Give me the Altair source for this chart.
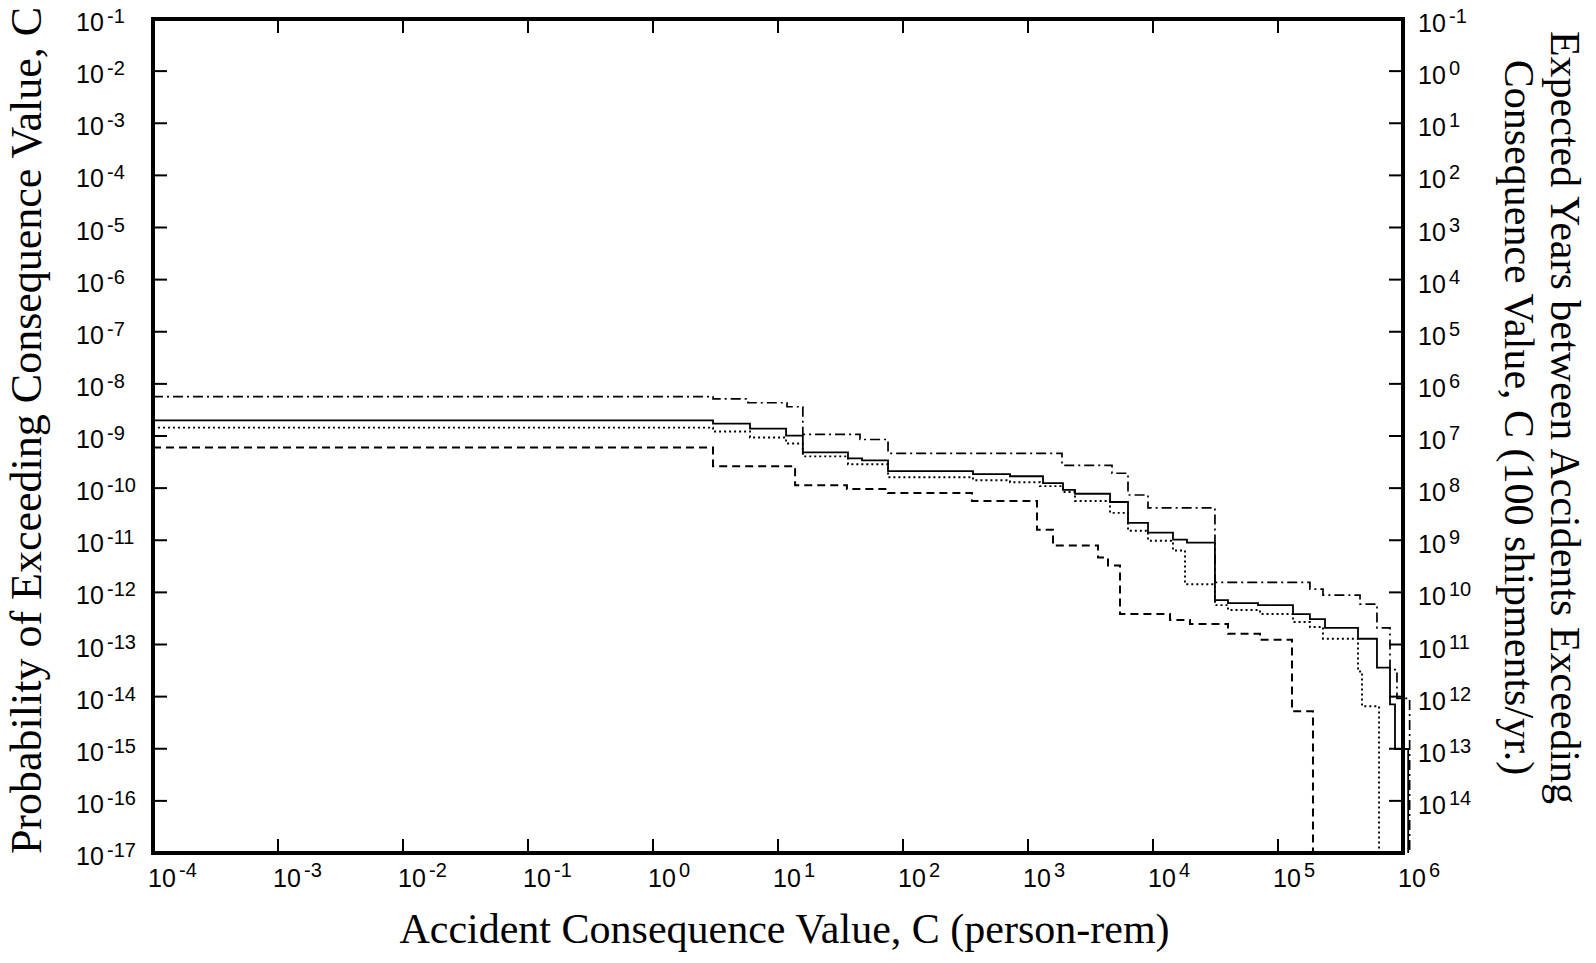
import altair as alt
import pandas as pd

# ---------------- data ----------------
series_names = ["dashdot", "solid", "dotted", "dashed"]

dashdot_c = [1e-4, 3.02, 5.75, 11.8, 15.8, 45.3, 75.9, 1870, 4700, 6310, 9120, 31300,
             180000, 229000, 453000, 619000, 787000, 895000, 1.13e6]
dashdot_p = [5.71e-9, 5.16e-9, 4.34e-9, 3.64e-9, 1.07e-9, 8.57e-10, 4.64e-10, 2.74e-10,
             1.93e-10, 7.38e-11, 4.17e-11, 1.56e-12, 1.15e-12, 8.83e-13, 5.96e-13,
             2.08e-13, 3.30e-14, 9.27e-15, 1e-17]

solid_c = [1e-4, 3.02, 5.97, 11.6, 15.8, 36.3, 47.0, 75.9, 363, 718, 1318, 1905, 2377,
           4530, 6310, 9120, 14450, 18700, 31300, 39800, 69200, 131800, 180000, 237700,
           436500, 619000, 787000, 863000, 1.1e6]
solid_p = [2.00e-9, 1.73e-9, 1.39e-9, 1.02e-9, 4.85e-10, 3.73e-10, 3.42e-10, 2.11e-10,
           1.85e-10, 1.69e-10, 1.25e-10, 9.29e-11, 7.80e-11, 5.42e-11, 2.16e-11, 1.40e-11,
           1.03e-11, 9.0e-12, 7.10e-13, 6.22e-13, 5.70e-13, 3.84e-13, 3.08e-13, 2.08e-13,
           1.29e-13, 3.61e-14, 7.13e-15, 9.9e-16, 1e-17]

dotted_c = [1e-4, 3.02, 5.97, 11.6, 15.8, 36.3, 75.9, 363, 718, 1247, 1905, 2377, 4530,
            6310, 9120, 14450, 18030, 31300, 39800, 71800, 131800, 180000, 229000,
            436500, 470000, 643000]
dotted_p = [1.45e-9, 1.22e-9, 9.35e-10, 7.19e-10, 4.07e-10, 2.87e-10, 1.62e-10, 1.42e-10,
            1.30e-10, 1.09e-10, 8.41e-11, 5.67e-11, 3.35e-11, 1.52e-11, 9.8e-12, 6.34e-12,
            1.43e-12, 5.70e-13, 4.58e-13, 3.84e-13, 2.70e-13, 2.17e-13, 1.29e-13,
            3.03e-14, 6.53e-15, 1e-17]

dashed_c = [1e-4, 3.02, 13.7, 35.6, 75.9, 356, 1180, 1585, 3630, 4365, 5445, 13680,
            19770, 39800, 71800, 129400, 190500]
dashed_p = [6.04e-10, 2.63e-10, 1.14e-10, 9.59e-11, 8.05e-11, 5.67e-11, 1.59e-11,
            7.89e-12, 4.67e-12, 3.29e-12, 3.84e-13, 2.95e-13, 2.48e-13, 1.60e-13,
            1.23e-13, 5.25e-15, 1e-17]

x_ticks = [1e-4, 1e-3, 1e-2, 1e-1, 1e0, 1e1, 1e2, 1e3, 1e4, 1e5, 1e6]
x_tick_exps = ["-4", "-3", "-2", "-1", "0", "1", "2", "3", "4", "5", "6"]
y_ticks = [1e-1, 1e-2, 1e-3, 1e-4, 1e-5, 1e-6, 1e-7, 1e-8, 1e-9, 1e-10, 1e-11, 1e-12,
           1e-13, 1e-14, 1e-15, 1e-16, 1e-17]
y_left_exps = ["-1", "-2", "-3", "-4", "-5", "-6", "-7", "-8", "-9", "-10", "-11", "-12",
               "-13", "-14", "-15", "-16", "-17"]
y_right_values = [1e-1, 1e-2, 1e-3, 1e-4, 1e-5, 1e-6, 1e-7, 1e-8, 1e-9, 1e-10, 1e-11,
                  1e-12, 1e-13, 1e-14, 1e-15, 1e-16]
y_right_exps = ["-1", "0", "1", "2", "3", "4", "5", "6", "7", "8", "9", "10", "11", "12",
                "13", "14"]
label_base = "10"

x_title = "Accident Consequence Value, C (person-rem)"
y_left_title = "Probability of Exceeding Consequence Value, C"
y_right_title = ["Expected Years between Accidents Exceeding",
                 "Consequence Value, C (100 shipments/yr.)"]

# ---------------- tables ----------------
rows = []
for name, cs, ps in [("dashdot", dashdot_c, dashdot_p), ("solid", solid_c, solid_p),
                     ("dotted", dotted_c, dotted_p), ("dashed", dashed_c, dashed_p)]:
    for i, (c, p) in enumerate(zip(cs, ps)):
        rows.append({"series": name, "c": c, "p": p, "order": i})
df = pd.DataFrame(rows)
xt = pd.DataFrame({"v": x_ticks, "base": label_base, "exp": x_tick_exps})
yt = pd.DataFrame({"v": y_ticks, "base": label_base, "exp": y_left_exps})
yr = pd.DataFrame({"v": y_right_values, "base": label_base, "exp": y_right_exps})

W, H = 1250, 834
TICK = 14
LABEL_FONT = "Liberation Sans"
TITLE_FONT = "Liberation Serif"
BASE_SIZE = 25
EXP_SIZE = 20

x_scale = alt.Scale(type="log", domain=[1e-4, 1e6], nice=False)
y_scale = alt.Scale(type="log", domain=[1e-17, 1e-1], nice=False)

common_axis = dict(grid=False, ticks=False, tickSize=0, domain=False, labels=False,
                   titleFont=TITLE_FONT, titleFontWeight="normal", titleColor="black")

x_axis = alt.Axis(values=x_ticks, title=x_title, titleFontSize=42, titleX=631, titleY=89,
                  titleAlign="center", titleBaseline="alphabetic", **common_axis)
yl_axis = alt.Axis(orient="left", values=y_ticks, title=y_left_title, titleFontSize=44,
                   titleAngle=270, titleX=-113, titleY=H / 2 - 6,
                   titleAlign="center", titleBaseline="alphabetic", **common_axis)
yr_axis = alt.Axis(orient="right", values=y_ticks, title=y_right_title, titleFontSize=42,
                   titleAngle=90, titleX=147, titleY=H / 2 - 19,
                   titleAlign="center", titleBaseline="alphabetic", titleLineHeight=46,
                   **common_axis)

lines = alt.Chart(df).mark_line(interpolate="step-after", color="black", clip=False).encode(
    x=alt.X("c:Q", scale=x_scale, axis=x_axis),
    y=alt.Y("p:Q", scale=y_scale, axis=yl_axis),
    strokeDash=alt.StrokeDash("series:N", legend=None,
                              scale=alt.Scale(domain=series_names,
                                              range=[[10, 4, 2, 4], [1, 0], [2, 3], [8, 5]])),
    strokeWidth=alt.StrokeWidth("series:N", legend=None,
                                scale=alt.Scale(domain=series_names,
                                                range=[1.7, 2.0, 1.7, 1.7])),
    order=alt.Order("order:Q"),
)

# inward tick marks on all four sides
tick_style = dict(color="black", strokeWidth=2)
bottom_ticks = alt.Chart(xt).mark_rule(**tick_style).encode(
    x=alt.X("v:Q", scale=x_scale, axis=None),
    y=alt.value(H), y2=alt.value(H - TICK))
top_ticks = alt.Chart(xt).mark_rule(**tick_style).encode(
    x=alt.X("v:Q", scale=x_scale, axis=None),
    y=alt.value(0), y2=alt.value(TICK))
left_ticks = alt.Chart(yt).mark_rule(**tick_style).encode(
    y=alt.Y("v:Q", scale=y_scale, axis=None),
    x=alt.value(0), x2=alt.value(TICK))
right_ticks = alt.Chart(yt).mark_rule(**tick_style).encode(
    y=alt.Y("v:Q", scale=y_scale, axis=yr_axis),
    x=alt.value(W - TICK), x2=alt.value(W))

# tick labels "10" with superscript exponent
def txt(size, **kw):
    return dict(align="left", baseline="alphabetic", font=LABEL_FONT, fontSize=size,
                color="black", **kw)

bx_base = alt.Chart(xt).mark_text(**txt(BASE_SIZE, dx=-5, dy=34)).encode(
    x=alt.X("v:Q", scale=x_scale, axis=None), y=alt.value(H), text="base:N")
bx_exp = alt.Chart(xt).mark_text(**txt(EXP_SIZE, dx=26, dy=24)).encode(
    x=alt.X("v:Q", scale=x_scale, axis=None), y=alt.value(H), text="exp:N")
ly_base = alt.Chart(yt).mark_text(**txt(BASE_SIZE, dy=12)).encode(
    y=alt.Y("v:Q", scale=y_scale, axis=None), x=alt.value(-77), text="base:N")
ly_exp = alt.Chart(yt).mark_text(**txt(EXP_SIZE, dy=4)).encode(
    y=alt.Y("v:Q", scale=y_scale, axis=None), x=alt.value(-46), text="exp:N")
ry_base = alt.Chart(yr).mark_text(**txt(BASE_SIZE, dy=13)).encode(
    y=alt.Y("v:Q", scale=y_scale, axis=None), x=alt.value(W + 15), text="base:N")
ry_exp = alt.Chart(yr).mark_text(**txt(EXP_SIZE, dy=4)).encode(
    y=alt.Y("v:Q", scale=y_scale, axis=None), x=alt.value(W + 46), text="exp:N")

chart = alt.layer(
    lines, bottom_ticks, top_ticks, left_ticks, right_ticks,
    bx_base, bx_exp, ly_base, ly_exp, ry_base, ry_exp,
).resolve_axis(
    x="independent", y="independent"
).properties(
    width=W, height=H,
    autosize=alt.AutoSizeParams(type="none"),
    padding={"left": 145, "top": 11, "right": 185, "bottom": 100},
    background="white",
).configure_view(stroke="black", strokeWidth=4)

chart.save("out.html", embed_options={"renderer": "svg", "actions": False})
